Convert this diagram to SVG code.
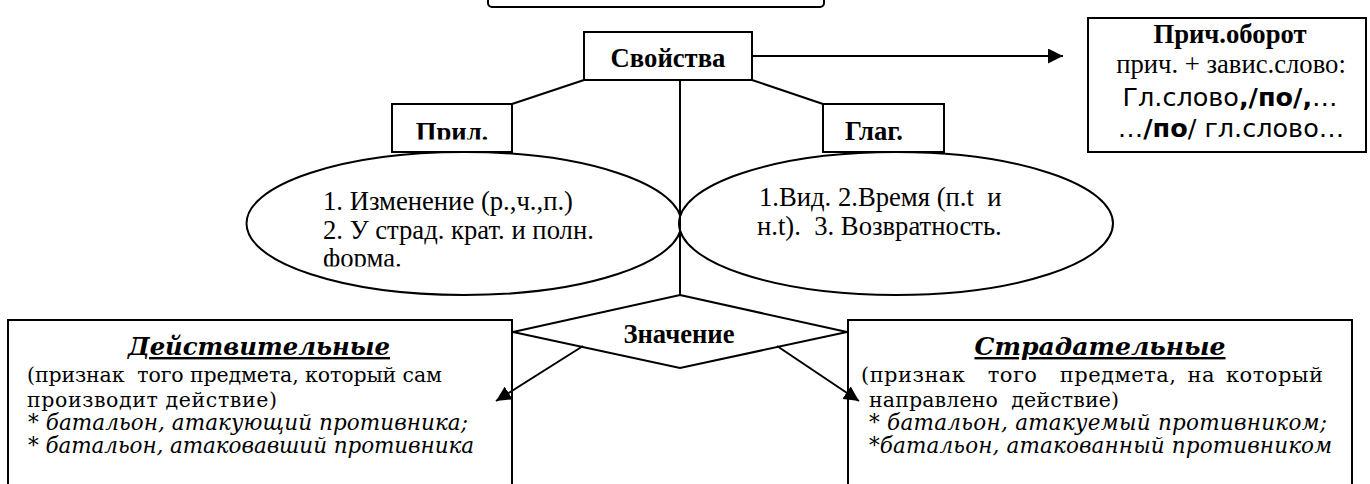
<svg xmlns="http://www.w3.org/2000/svg" width="1370" height="484" viewBox="0 0 1370 484">
<style>
.box{fill:#fff;stroke:#000;stroke-width:2}
.ln{fill:none;stroke:#000;stroke-width:2}
.tb{font-family:"Liberation Serif","Times New Roman",serif;font-weight:bold;font-size:26.67px;fill:#000}
.tr{font-family:"Liberation Serif","Times New Roman",serif;font-size:26.67px;fill:#000;white-space:pre}
.ts{font-family:"DejaVu Sans",Verdana,sans-serif;font-size:25.5px;fill:#000;white-space:pre}
.tg{font-family:"DejaVu Serif",Georgia,serif;font-size:20.5px;fill:#000;white-space:pre}
.ti{font-style:italic;font-size:21.5px}
.th{font-family:"DejaVu Serif",Georgia,serif;font-size:24px;font-weight:bold;font-style:italic;text-decoration:underline;fill:#000}
</style>
<defs>
<marker id="ah" viewBox="0 0 10 10" refX="10" refY="5" markerWidth="7.5" markerHeight="7.5" markerUnits="strokeWidth" orient="auto">
<path d="M0,0 L10,5 L0,10 z" fill="#000"/>
</marker>
<clipPath id="cPril"><rect x="392" y="104" width="120" height="35.5"/></clipPath>
<clipPath id="cGlag"><rect x="823" y="104" width="121" height="36"/></clipPath>
<clipPath id="cEl"><rect x="246" y="152" width="436" height="114.5"/></clipPath>
</defs>
<g id="top-box">
<rect class="box" x="488" y="-20" width="336" height="27" rx="4"/>
</g>
<g id="svoystva">
<rect class="box" x="584" y="32" width="168" height="48"/>
<text class="tb" x="668" y="67" text-anchor="middle">Свойства</text>
</g>
<g id="prich-oborot">
<rect class="box" x="1088" y="18" width="278" height="134"/>
<text class="tb" x="1230" y="43" text-anchor="middle">Прич.оборот</text>
<text class="tr" x="1231" y="73" text-anchor="middle">прич. + завис.слово:</text>
<text class="ts" x="1230" y="106" text-anchor="middle">Гл.слово<tspan font-weight="bold">,/по/,</tspan>…</text>
<text class="ts" x="1231" y="137" text-anchor="middle">…<tspan font-weight="bold">/по</tspan>/ гл.слово…</text>
</g>
<g id="pril">
<rect class="box" x="392" y="104" width="120" height="48"/>
<text class="tb" x="452" y="140.5" text-anchor="middle" clip-path="url(#cPril)">Прил.</text>
</g>
<g id="glag">
<rect class="box" x="823" y="104" width="121" height="48"/>
<text class="tb" x="845" y="140" clip-path="url(#cGlag)">Глаг.</text>
</g>
<g id="pril-props">
<ellipse class="box" cx="464" cy="223.5" rx="217.5" ry="71.5"/>
<g clip-path="url(#cEl)">
<text class="tr" x="323" y="210">1. Изменение (р.,ч.,п.)</text>
<text class="tr" x="323" y="238.5">2. У страд. крат. и полн.</text>
<text class="tr" x="323" y="267">форма.</text>
</g>
</g>
<g id="glag-props">
<ellipse class="box" cx="896" cy="223.5" rx="217" ry="71.5"/>
<text class="tr" x="759" y="206">1.Вид. 2.Время (п.t  и</text>
<text class="tr" x="757" y="235">н.t).  3. Возвратность.</text>
</g>
<g id="deystvitelnye">
<rect class="box" x="8" y="320" width="504" height="180"/>
<text class="th" x="259" y="355" text-anchor="middle" textLength="262" lengthAdjust="spacingAndGlyphs">Действительные</text>
<text class="tg" x="27" y="382" textLength="415">(признак  того предмета, который сам</text>
<text class="tg" x="27" y="407" textLength="250">производит действие)</text>
<text class="tg ti" x="28" y="430" textLength="440">* батальон, атакующий противника;</text>
<text class="tg ti" x="28" y="453" textLength="446">* батальон, атаковавший противника</text>
</g>
<g id="stradatelnye">
<rect class="box" x="848" y="320" width="504" height="180"/>
<text class="th" x="1100" y="355" text-anchor="middle" textLength="251" lengthAdjust="spacingAndGlyphs">Страдательные</text>
<text class="tg" x="861" y="382" textLength="462" style="font-size:21px;word-spacing:4px">(признак  того  предмета, на который</text>
<text class="tg" x="869" y="407" textLength="250">направлено  действие)</text>
<text class="tg ti" x="869" y="430" textLength="458">* батальон, атакуемый противником;</text>
<text class="tg ti" x="869" y="453" textLength="463">*батальон, атакованный противником</text>
</g>
<g id="znachenie">
<polygon class="box" points="680,295 847,332 680,368 513,332"/>
<text class="tb" x="679" y="343" text-anchor="middle">Значение</text>
</g>
<g id="connectors">
<line class="ln" x1="584" y1="80" x2="512" y2="104"/>
<line class="ln" x1="752" y1="80" x2="823" y2="104"/>
<line class="ln" x1="680" y1="80" x2="680" y2="295"/>
<line class="ln" x1="752" y1="56" x2="1063" y2="56" marker-end="url(#ah)"/>
<line class="ln" x1="583" y1="346" x2="496" y2="401" marker-end="url(#ah)"/>
<line class="ln" x1="777" y1="346" x2="859" y2="401" marker-end="url(#ah)"/>
</g>
</svg>
